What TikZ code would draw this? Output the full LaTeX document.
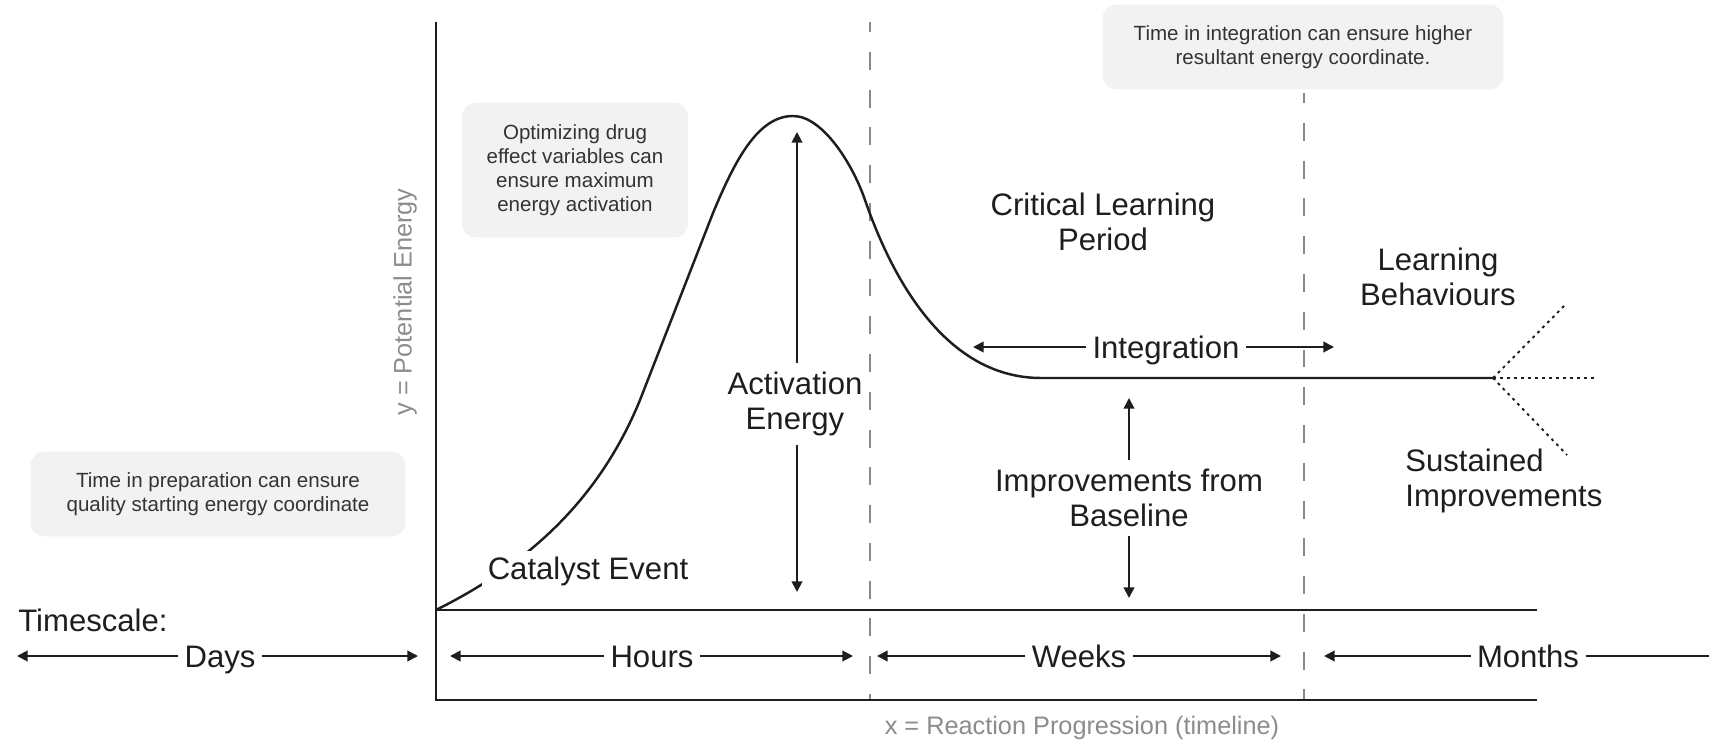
\documentclass[tikz,border=0pt]{standalone}
\usepackage{fontspec}
\setmainfont{Liberation Sans}
\usetikzlibrary{arrows.meta}
\definecolor{ink}{HTML}{1E1E1E}
\definecolor{boxfill}{HTML}{F2F2F2}
\definecolor{boxink}{HTML}{333333}
\definecolor{axisgray}{HTML}{8C8C8C}
\definecolor{dashgray}{HTML}{858892}
\begin{document}
\begin{tikzpicture}[x=0.02cm,y=-0.02cm,
  lbl/.style={text=ink, font=\fontsize{17.7}{20}\selectfont, align=center, inner sep=0pt},
  gapped/.style={lbl, inner sep=5pt},
  span/.style={lbl, inner xsep=3.5pt, inner ysep=0pt, text height=12.7pt, text depth=0pt},
  note/.style={fill=boxfill, rounded corners=8pt, text=boxink,
    font=\fontsize{11.7}{13.6}\selectfont, align=center, inner sep=0pt},
  axislbl/.style={text=axisgray, font=\fontsize{14.4}{16}\selectfont, inner sep=0pt},
  axisline/.style={line width=1.5pt, ink, line join=miter},
  sep/.style={line width=1.2pt, dashgray, dash pattern=on 10.2pt off 11.3pt, dash phase=4.5pt},
  curve/.style={line width=1.4pt, ink, line join=round},
  dim/.style={line width=1.1pt, ink, -{Triangle[length=6pt,width=6pt]}},
  branch/.style={line width=1.1pt, ink, dash pattern=on 1.6pt off 2.4pt},
]
\useasboundingbox (0,0) rectangle (1709,746);

% note boxes
\node[note, minimum width=7.5cm, minimum height=1.7cm] (prep) at (218,494)
  {Time in preparation can ensure\\quality starting energy coordinate};
\node[note, minimum width=4.52cm, minimum height=2.7cm] (drug) at (575,170)
  {Optimizing drug\\effect variables can\\ensure maximum\\energy activation};
\node[note, minimum width=8.02cm, minimum height=1.7cm] (integ) at (1303,47)
  {Time in integration can ensure higher\\resultant energy coordinate.};

% phase separators
\draw[sep] (870,22) -- (870,700);
\draw[sep] (1304,93) -- (1304,700);

% axes
\draw[axisline] (436,22) -- (436,700) -- (1537,700);
\draw[axisline] (436,610) -- (1537,610);

% energy profile
\coordinate (origin) at (436,610);
\coordinate (fork) at (1493,378);
\draw[curve] (origin) .. controls (516,570) and (595,510) .. (640,400)
  -- (713,213) .. controls (735,160) and (758,116) .. (793,116)
  .. controls (823,116) and (853,165) .. (865,200)
  .. controls (895,287) and (950,378) .. (1041,378) -- (fork);

% outcome branches
\coordinate (bUp) at (1565,305);
\coordinate (bMid) at (1597,378);
\coordinate (bLow) at (1567,455);
\draw[branch] (fork) -- (bUp);
\draw[branch] (fork) -- (bMid);
\draw[branch] (fork) -- (bLow);

\node[lbl, fill=white, inner sep=3pt] (cat) at (588,571) {Catalyst Event};

% activation energy
\node[gapped] (act) at (795,404) {Activation\\Energy};
\coordinate (actTop) at (797,132);
\coordinate (actBot) at (797,592);
\draw[dim] (act.north -| actTop) -- (actTop);
\draw[dim] (act.south -| actBot) -- (actBot);

% improvements from baseline
\node[gapped] (imp) at (1129,498) {Improvements from\\Baseline};
\coordinate (impTop) at (1129,398);
\coordinate (impBot) at (1129,598);
\draw[dim] (imp.north) -- (impTop);
\draw[dim] (imp.south) -- (impBot);

% integration
\node[span] (intg) at (1166,347) {Integration};
\coordinate (intL) at (973,347);
\coordinate (intR) at (1334,347);
\draw[dim] (intg.west |- intL) -- (intL);
\draw[dim] (intg.east |- intR) -- (intR);

\node[lbl] (clp) at (1103,222) {Critical Learning\\Period};
\node[lbl] (lbh) at (1438,277) {Learning\\Behaviours};
\node[lbl, align=left, anchor=west] (sus) at (1405,481) {Sustained\\Improvements};

% timescale row
\node[lbl, anchor=west] (ts) at (18,620) {Timescale:};

\node[span] (days) at (220,656) {Days};
\coordinate (daysL) at (17,656);
\coordinate (daysR) at (418,656);
\draw[dim] (days.west |- daysL) -- (daysL);
\draw[dim] (days.east |- daysR) -- (daysR);

\node[span] (hours) at (652,656) {Hours};
\coordinate (hoursL) at (450,656);
\coordinate (hoursR) at (853,656);
\draw[dim] (hours.west |- hoursL) -- (hoursL);
\draw[dim] (hours.east |- hoursR) -- (hoursR);

\node[span] (weeks) at (1079,656) {Weeks};
\coordinate (weeksL) at (877,656);
\coordinate (weeksR) at (1281,656);
\draw[dim] (weeks.west |- weeksL) -- (weeksL);
\draw[dim] (weeks.east |- weeksR) -- (weeksR);

\node[span] (months) at (1528,656) {Months};
\coordinate (monthsL) at (1324,656);
\coordinate (monthsR) at (1709,656);
\draw[dim] (months.west |- monthsL) -- (monthsL);
\draw[line width=1.1pt, ink] (months.east |- monthsR) -- (monthsR);

% axis titles
\node[axislbl] (xlab) at (1082,728) {x = Reaction Progression (timeline)};
\node[axislbl, rotate=90] (ylab) at (405,302) {y = Potential Energy};
\end{tikzpicture}
\end{document}
